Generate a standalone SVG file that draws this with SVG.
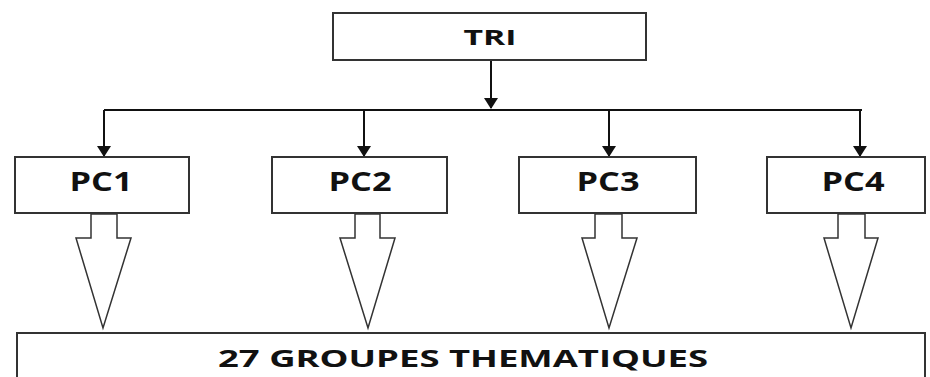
<svg xmlns="http://www.w3.org/2000/svg" width="930" height="377" viewBox="0 0 930 377">
<defs>
<style>
.box{fill:#fff;stroke:#333;stroke-width:2}
.lbl{font-family:"Open Sans","DejaVu Sans",sans-serif;font-weight:bold;fill:#111;text-anchor:middle}
.ln{fill:none;stroke:#111;stroke-width:2}
.blk{fill:#fff;stroke:#333;stroke-width:1.5;stroke-linejoin:miter}
</style>
<marker id="ah" markerWidth="11" markerHeight="14" refX="10" refY="7" orient="auto" markerUnits="userSpaceOnUse">
<path d="M0,0 L11,7 L0,14 Z" fill="#111"/>
</marker>
</defs>
<rect width="930" height="377" fill="#fff"/>
<g id="connectors">
<line class="ln" x1="491" y1="60" x2="491" y2="108" marker-end="url(#ah)"/>
<polyline class="ln" points="104,110 862,110"/>
<line class="ln" x1="104" y1="110" x2="104" y2="156" marker-end="url(#ah)"/>
<line class="ln" x1="364" y1="110" x2="364" y2="156" marker-end="url(#ah)"/>
<line class="ln" x1="609" y1="110" x2="609" y2="156" marker-end="url(#ah)"/>
<line class="ln" x1="860" y1="110" x2="860" y2="156" marker-end="url(#ah)"/>
<polygon class="blk" points="91,214 117,214 117,238 131,238 103,328 76,238 91,238"/>
<polygon class="blk" points="355,214 380,214 380,238 395,238 368,328 340,238 355,238"/>
<polygon class="blk" points="595,214 622,214 622,238 637,238 609,328 582,238 595,238"/>
<polygon class="blk" points="838,214 865,214 865,238 878,238 851,328 824,238 838,238"/>
</g>
<g id="tri">
<rect class="box" x="333" y="13" width="313" height="47"/>
<text class="lbl" x="490" y="45" font-size="22" textLength="53" lengthAdjust="spacingAndGlyphs">TRI</text>
</g>
<g id="pc1">
<rect class="box" x="15" y="157" width="174" height="56"/>
<text class="lbl" x="101" y="191" font-size="26" textLength="63" lengthAdjust="spacingAndGlyphs">PC1</text>
</g>
<g id="pc2">
<rect class="box" x="272" y="157" width="175" height="56"/>
<text class="lbl" x="360" y="191" font-size="26" textLength="63" lengthAdjust="spacingAndGlyphs">PC2</text>
</g>
<g id="pc3">
<rect class="box" x="519" y="157" width="177" height="56"/>
<text class="lbl" x="608" y="191" font-size="26" textLength="63" lengthAdjust="spacingAndGlyphs">PC3</text>
</g>
<g id="pc4">
<rect class="box" x="767" y="157" width="158" height="56"/>
<text class="lbl" x="853" y="191" font-size="26" textLength="63" lengthAdjust="spacingAndGlyphs">PC4</text>
</g>
<g id="groupes">
<rect class="box" x="17" y="333" width="908" height="60"/>
<text class="lbl" x="463" y="367" font-size="24" textLength="490" lengthAdjust="spacingAndGlyphs">27 GROUPES THEMATIQUES</text>
</g>
</svg>
